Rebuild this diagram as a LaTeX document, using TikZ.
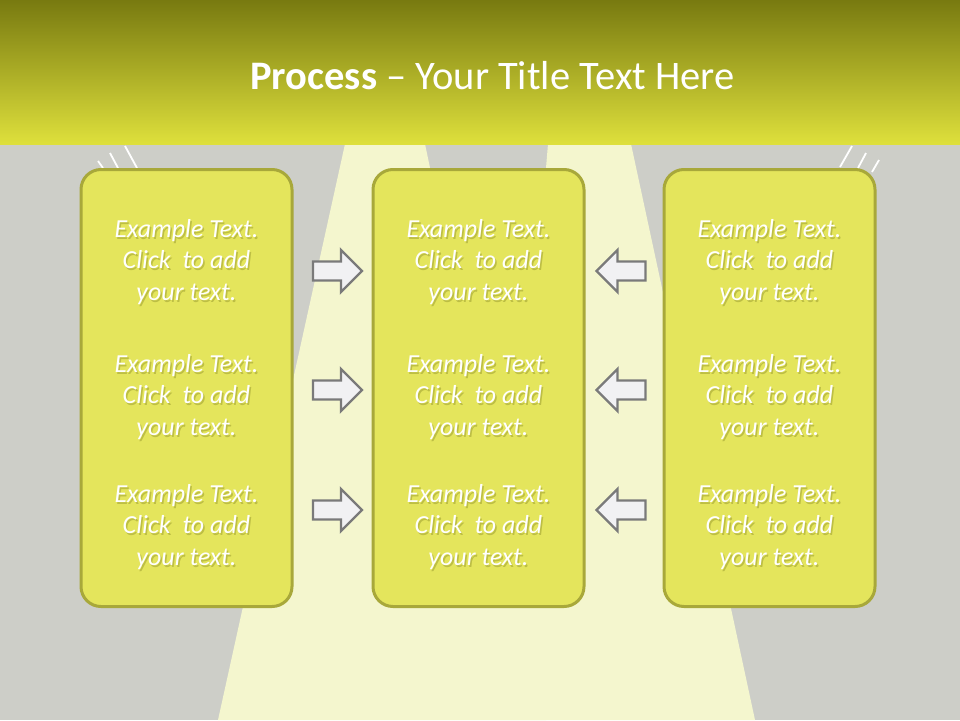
\documentclass[tikz,border=0pt]{standalone}
\usepackage{fontspec}
\setmainfont{Carlito}
\definecolor{bgray}{HTML}{CDCEC8}
\definecolor{beamc}{HTML}{F4F6CE}
\definecolor{boxfill}{HTML}{E4E55C}
\definecolor{boxline}{HTML}{A8A83A}
\definecolor{hdtop}{HTML}{787A10}
\definecolor{hdmid}{HTML}{B2B41F}
\definecolor{hdbot}{HTML}{DEE03C}
\definecolor{arrfill}{HTML}{F1F1F3}
\definecolor{arrline}{HTML}{7A7A7A}
\definecolor{shadowc}{HTML}{BDBE44}
\newcommand\shadowed[1]{\rlap{\hspace{1.5pt}\raisebox{-2pt}[0pt][0pt]{\textcolor{shadowc}{#1}}}#1}
\begin{document}
\begin{tikzpicture}[x=1pt,y=-1pt,
  beam/.style={fill=beamc},
  panel/.style={draw=boxline, line width=3pt, fill=boxfill, rounded corners=20pt,
    minimum width=211pt, minimum height=437pt, inner sep=0pt},
  txt/.style={font=\itshape\fontsize{26}{31}\selectfont, text=white, anchor=base, inner sep=0pt},
  titlest/.style={font=\fontsize{40.5}{48}\selectfont, text=white, anchor=base, inner sep=0pt},
  arrowst/.style={draw=arrline, fill=arrfill, line width=2.4pt, line join=miter},
  lampline/.style={draw=white, line width=1.8pt},
  rarrow/.pic={\path[arrowst] (-24.5,-9.5) -- (3.5,-9.5) -- (3.5,-21) -- (24.5,0) -- (3.5,21) -- (3.5,9.5) -- (-24.5,9.5) -- cycle;}
]
\useasboundingbox (0,0) rectangle (960,720);
% background
\fill[bgray] (0,0) rectangle (960,720);
% light beams
\fill[beam] (345,144) -- (425,144) -- (546,720) -- (218,720) -- cycle;
\fill[beam] (548,144) -- (631,144) -- (755,720) -- (500,720) -- cycle;
% header
\shade[top color=hdtop, middle color=hdmid, bottom color=hdbot] (0,0) rectangle (960,144);
\node[titlest] (title) at (492.5,89) {\textbf{Process} – Your Title Text Here};
% lamp lines
\draw[lampline] (98,161) -- (103,168);
\draw[lampline] (110,153) -- (118,168);
\draw[lampline] (125,146) -- (137,168);
\draw[lampline] (852,146) -- (840,167);
\draw[lampline] (866,153) -- (858,168);
\draw[lampline] (879,160) -- (872,172);
% panels
\node[panel] (boxL) at (186.5,388) {};
\node[panel] (boxC) at (478.5,388) {};
\node[panel] (boxR) at (769.5,388) {};
% texts
\foreach \bx/\bn in {186.5/L,478.5/C,769.5/R}{
  \foreach \gy/\gn in {237/a,372/b,502/c}{
    \node[txt] (t\bn\gn1) at (\bx,\gy) {\shadowed{Example Text.}};
    \node[txt] (t\bn\gn2) at (\bx,\gy+31.5) {\shadowed{Click~~to add}};
    \node[txt] (t\bn\gn3) at (\bx,\gy+63) {\shadowed{your text.}};
  }
}
% arrows
\foreach \ry/\rn in {271/1,390/2,510/3}{
  \pic (ra\rn) at (337.5,\ry) {rarrow};
  \pic[xscale=-1] (la\rn) at (621,\ry) {rarrow};
}
\end{tikzpicture}
\end{document}
